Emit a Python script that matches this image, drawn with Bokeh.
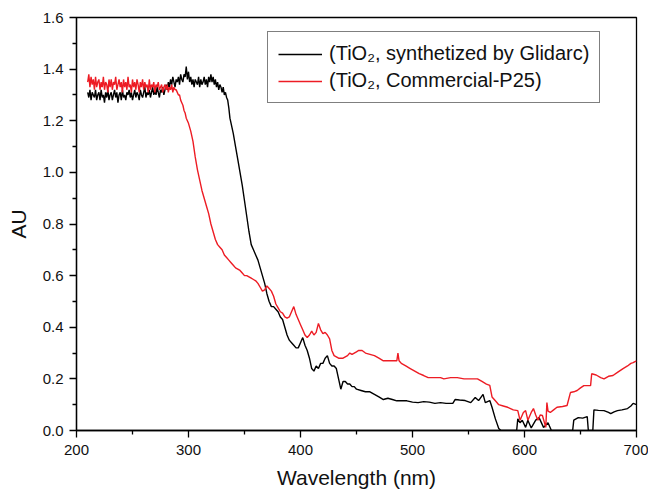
from bokeh.plotting import figure
from bokeh.models import (Range1d, FixedTicker, PrintfTickFormatter, Legend, LegendItem)
from bokeh.embed import file_html
from bokeh.resources import INLINE

# ---------------- data ----------------
# Glidarc TiO2: 1 nm sampling over the plateau, coarser afterwards
wl_glidarc = list(range(210, 338)) + [
    340, 342, 344, 346, 348, 350, 352, 354, 356, 358, 360, 362, 364, 366,
    368, 370, 372, 374, 376, 378, 380, 382, 384, 386, 388, 390, 392, 394, 396, 398,
    400, 402, 404, 406, 408, 410, 412, 414, 416, 418, 420, 422, 424, 426, 428, 430,
    432, 434, 436, 438, 440, 442, 444, 446, 448, 450, 454, 458, 462, 466, 470, 474,
    478, 482, 486, 490, 495, 500, 505, 510, 515, 520, 525, 530, 536, 538, 542, 547,
    552, 556, 559, 563, 565, 569, 571, 574, 577, 579, 593, 594, 596, 598, 601, 603,
    606, 610, 613, 617, 621, 624, 643, 644, 648, 652, 656, 657, 661, 662, 666, 671,
    675, 677, 680, 683, 687, 692, 695, 697, 700]
au_glidarc = [
    1.31, 1.29, 1.32, 1.28, 1.31, 1.30, 1.29, 1.32, 1.28, 1.30,
    1.31, 1.28, 1.32, 1.29, 1.30, 1.27, 1.31, 1.29, 1.32, 1.28,
    1.30, 1.31, 1.28, 1.30, 1.32, 1.29, 1.31, 1.27, 1.30, 1.31,
    1.28, 1.32, 1.29, 1.30, 1.28, 1.31, 1.30, 1.32, 1.29, 1.31,
    1.28, 1.30, 1.32, 1.29, 1.31, 1.30, 1.28, 1.32, 1.30, 1.29,
    1.31, 1.33, 1.29, 1.31, 1.30, 1.32, 1.29, 1.31, 1.33, 1.30,
    1.32, 1.30, 1.33, 1.31, 1.29, 1.32, 1.31, 1.33, 1.30, 1.32,
    1.34, 1.32, 1.35, 1.33, 1.36, 1.34, 1.37, 1.35, 1.33, 1.36,
    1.35, 1.37, 1.34, 1.38, 1.36, 1.35, 1.38, 1.37, 1.41, 1.36,
    1.39, 1.35, 1.37, 1.34, 1.36, 1.33, 1.36, 1.35, 1.34, 1.37,
    1.33, 1.36, 1.34, 1.35, 1.37, 1.34, 1.36, 1.33, 1.37, 1.35,
    1.38, 1.35, 1.37, 1.34, 1.36, 1.33, 1.35, 1.32, 1.34, 1.33,
    1.31, 1.33, 1.30, 1.31, 1.29, 1.28, 1.25, 1.21,
    1.15, 1.10, 1.05, 1.00, 0.95, 0.89, 0.83, 0.77, 0.72, 0.70, 0.68, 0.66, 0.63, 0.60,
    0.57, 0.53, 0.50, 0.48, 0.48, 0.47, 0.46, 0.44, 0.43, 0.40, 0.37, 0.35, 0.34, 0.33, 0.32, 0.32,
    0.34, 0.36, 0.33, 0.31, 0.28, 0.24, 0.23, 0.25, 0.24, 0.26, 0.26, 0.28, 0.29, 0.26, 0.25, 0.25,
    0.24, 0.20, 0.16, 0.19, 0.19, 0.18, 0.18, 0.17, 0.17, 0.16, 0.155, 0.15, 0.15, 0.14, 0.13, 0.12,
    0.125, 0.12, 0.115, 0.115, 0.115, 0.11, 0.108, 0.112, 0.11, 0.105, 0.108, 0.105, 0.105, 0.12, 0.118, 0.116,
    0.108, 0.128, 0.116, 0.14, 0.108, 0.116, 0.09, 0.045, 0.008, 0.0, 0.0, 0.045, 0.03, 0.04, 0.012, 0.04,
    0.01, 0.04, 0.05, 0.012, 0.03, 0.0, 0.0, 0.04, 0.05, 0.048, 0.054, 0.0, 0.0, 0.08, 0.078, 0.077,
    0.07, 0.065, 0.072, 0.077, 0.08, 0.085, 0.095, 0.105, 0.10]

# Commercial P25: 1 nm sampling over the plateau, coarser afterwards
wl_p25 = list(range(210, 300)) + [
    300, 302, 304, 306, 308, 310, 312, 314, 316, 318, 320, 322, 324, 326, 328, 330, 332, 334,
    336, 338, 340, 342, 344, 346, 348, 350, 352, 354, 356, 358, 360, 362, 364, 366,
    368, 370, 372, 374, 376, 378, 380, 382, 384, 386, 388, 390, 392, 394, 396, 398,
    400, 402, 404, 406, 408, 410, 412, 414, 416, 418, 420, 422, 424, 426, 428, 430,
    432, 434, 436, 438, 440, 442, 444, 446, 448, 450, 452, 455, 458, 462, 466, 470,
    474, 478, 482, 486, 487, 488, 490, 494, 498, 502, 506, 510, 514, 520, 525, 528,
    534, 540, 546, 552, 558, 562, 566, 569, 571, 574, 577, 581, 585, 590, 594, 596,
    599, 601, 603, 606, 608, 610, 612, 614, 616, 619, 620, 621, 623, 626, 629, 634,
    638, 641, 644, 647, 650, 653, 659, 660, 664, 668, 671, 675, 679, 683, 688, 692,
    695, 697, 700]
au_p25 = [
    1.35, 1.38, 1.33, 1.37, 1.34, 1.36, 1.32, 1.37, 1.33, 1.35,
    1.36, 1.32, 1.35, 1.33, 1.37, 1.32, 1.35, 1.34, 1.31, 1.36,
    1.33, 1.36, 1.32, 1.35, 1.34, 1.37, 1.32, 1.34, 1.36, 1.33,
    1.35, 1.31, 1.36, 1.33, 1.35, 1.32, 1.37, 1.33, 1.34, 1.31,
    1.36, 1.33, 1.35, 1.32, 1.36, 1.34, 1.31, 1.35, 1.33, 1.36,
    1.32, 1.35, 1.33, 1.34, 1.31, 1.36, 1.32, 1.34, 1.33, 1.35,
    1.31, 1.34, 1.33, 1.35, 1.32, 1.33, 1.34, 1.31, 1.33, 1.34,
    1.32, 1.34, 1.31, 1.33, 1.32, 1.34, 1.31, 1.33, 1.32, 1.32,
    1.31, 1.30, 1.30, 1.28, 1.27, 1.26, 1.24, 1.23, 1.21, 1.20,
    1.19, 1.16, 1.12, 1.06, 1.01, 0.97, 0.93, 0.90, 0.87, 0.84, 0.80, 0.77, 0.74, 0.72, 0.71, 0.70, 0.68, 0.67,
    0.66, 0.65, 0.64, 0.63, 0.625, 0.62, 0.61, 0.60, 0.60, 0.595, 0.59, 0.585, 0.58, 0.57, 0.555, 0.54,
    0.545, 0.56, 0.55, 0.54, 0.52, 0.49, 0.475, 0.46, 0.455, 0.44, 0.435, 0.44, 0.46, 0.48, 0.45, 0.43,
    0.41, 0.39, 0.37, 0.36, 0.37, 0.385, 0.37, 0.38, 0.415, 0.39, 0.375, 0.38, 0.37, 0.355, 0.31, 0.29,
    0.285, 0.28, 0.28, 0.28, 0.285, 0.29, 0.30, 0.295, 0.30, 0.305, 0.31, 0.31, 0.30, 0.295, 0.29, 0.28,
    0.27, 0.27, 0.27, 0.27, 0.30, 0.27, 0.26, 0.25, 0.24, 0.23, 0.22, 0.213, 0.205, 0.205, 0.205, 0.20,
    0.205, 0.205, 0.20, 0.20, 0.20, 0.19, 0.18, 0.175, 0.13, 0.115, 0.10, 0.095, 0.09, 0.08, 0.077, 0.04,
    0.07, 0.077, 0.04, 0.07, 0.085, 0.06, 0.04, 0.06, 0.058, 0.012, 0.108, 0.075, 0.07, 0.08, 0.09, 0.093,
    0.097, 0.147, 0.15, 0.155, 0.165, 0.174, 0.174, 0.22, 0.215, 0.205, 0.20, 0.21, 0.213, 0.225, 0.24, 0.25,
    0.26, 0.263, 0.27]

labels = ["(TiO\u2082, synthetized by Glidarc)", "(TiO\u2082, Commercial-P25)"]
x_major = [200, 300, 400, 500, 600, 700]
x_minor = [250, 350, 450, 550, 650]
y_major = [0.0, 0.2, 0.4, 0.6, 0.8, 1.0, 1.2, 1.4, 1.6]
y_minor = [0.1, 0.3, 0.5, 0.7, 0.9, 1.1, 1.3, 1.5]

FONT = "Liberation Sans"

p = figure(width=648, height=495, output_backend="svg", toolbar_location=None,
           x_range=Range1d(200, 700), y_range=Range1d(0, 1.6),
           x_axis_label="Wavelength (nm)", y_axis_label="AU",
           min_border_left=76, min_border_right=12, min_border_top=17, min_border_bottom=65)

p.background_fill_color = "white"
p.border_fill_color = "white"
p.grid.visible = False
p.outline_line_color = "black"
p.outline_line_width = 1.3
p.outline_line_alpha = 1.0

r1 = p.line(wl_glidarc, au_glidarc, line_color="black", line_width=1.4)
r2 = p.line(wl_p25, au_p25, line_color="#ed1c24", line_width=1.4)

p.xaxis.ticker = FixedTicker(ticks=x_major, minor_ticks=x_minor)
p.yaxis.ticker = FixedTicker(ticks=y_major, minor_ticks=y_minor)
p.yaxis.formatter = PrintfTickFormatter(format="%.1f")

for ax in (p.xaxis[0], p.yaxis[0]):
    ax.axis_line_color = "black"
    ax.axis_line_width = 1.3
    ax.major_tick_line_color = "black"
    ax.major_tick_line_width = 1.3
    ax.minor_tick_line_color = "black"
    ax.minor_tick_line_width = 1.3
    ax.major_tick_in = 0
    ax.major_tick_out = 7
    ax.minor_tick_in = 0
    ax.minor_tick_out = 4
    ax.major_label_text_font = FONT
    ax.major_label_text_font_size = "15px"
    ax.major_label_text_color = "#111111"
    ax.axis_label_text_font = FONT
    ax.axis_label_text_font_size = "21px"
    ax.axis_label_text_font_style = "normal"
    ax.axis_label_text_color = "#111111"

p.xaxis.major_label_standoff = 7
p.xaxis.axis_label_standoff = 8
p.yaxis.major_label_standoff = 6
p.yaxis.axis_label_standoff = 10

legend = Legend(items=[LegendItem(label=labels[0], renderers=[r1]),
                       LegendItem(label=labels[1], renderers=[r2])],
                location=(191, 327), margin=0)
legend.label_text_font = FONT
legend.label_text_font_size = "20px"
legend.label_text_color = "#111111"
legend.border_line_color = "black"
legend.border_line_width = 1
legend.background_fill_color = "white"
legend.background_fill_alpha = 1.0
legend.glyph_width = 44
legend.glyph_height = 22
legend.label_height = 22
legend.label_standoff = 7
legend.padding = 10
legend.spacing = 4
p.add_layout(legend)

open("out.html", "w").write(file_html(p, INLINE))
